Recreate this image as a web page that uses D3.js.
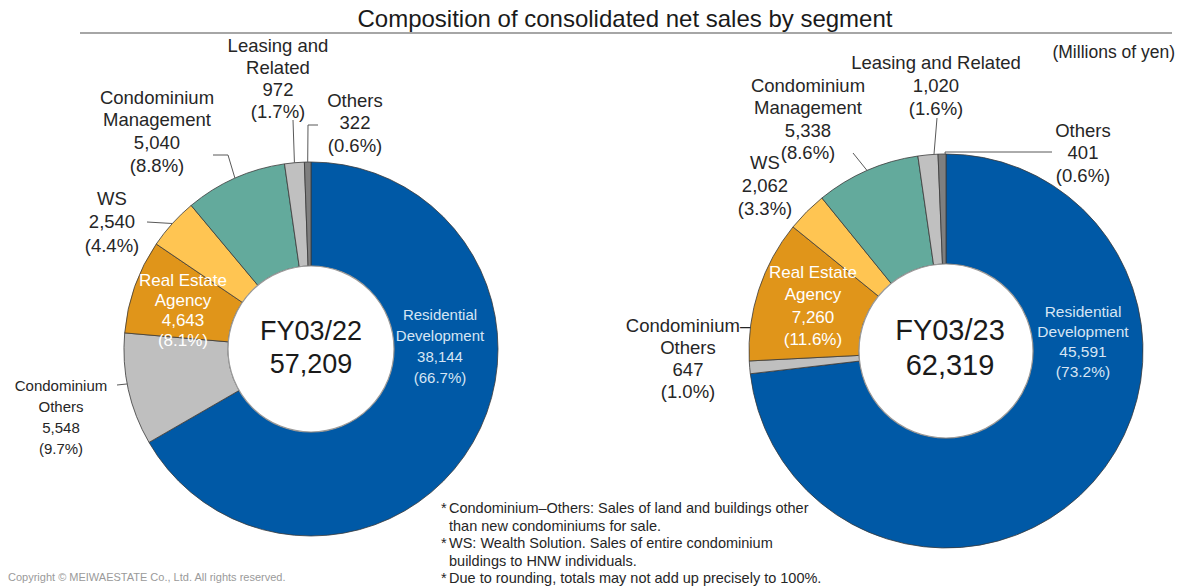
<!DOCTYPE html>
<html>
<head>
<meta charset="utf-8">
<script src="https://cdn.jsdelivr.net/npm/d3@7"></script>
<style>
  html, body { margin: 0; padding: 0; background: #fff; }
  svg { display: block; font-family: Arial, "Liberation Sans", sans-serif; }
</style>
</head>
<body>
<svg id="chart" width="1182" height="588"></svg>
<script>
// ---------- data ----------
const segments = ["Residential Development", "Condominium–Others", "Real Estate Agency", "WS",
                  "Condominium Management", "Leasing and Related", "Others"];
const years = ["FY03/22", "FY03/23"];
const totals = [57209, 62319];
const fy22Values = [38144, 5548, 4643, 2540, 5040, 972, 322];
const fy23Values = [45591, 647, 7260, 2062, 5338, 1020, 401];
const fy22Pct = ["66.7%", "9.7%", "8.1%", "4.4%", "8.8%", "1.7%", "0.6%"];
const fy23Pct = ["73.2%", "1.0%", "11.6%", "3.3%", "8.6%", "1.6%", "0.6%"];
const footnotes = [
  ["* ", "Condominium–Others: Sales of land and buildings other"],
  ["", "than new condominiums for sale."],
  ["* ", "WS: Wealth Solution. Sales of entire condominium"],
  ["", "buildings to HNW individuals."],
  ["* ", "Due to rounding, totals may not add up precisely to 100%."]
];

// ---------- styles / layout ----------
const colors = ["#0059a6", "#bfbfbf", "#e0951a", "#ffc552", "#63aa9c", "#c0c0c0", "#7f7f7f"];
const fmt = d3.format(",");
const OUT = 18.5;

const charts = [
  { values: fy22Values, pct: fy22Pct, year: years[0], total: totals[0],
    cx: 311, cy: 349, R: 187, r: 83, cfs: 27, cdx: 0, cy1: -18, cy2: 15,
    labels: [
      { name: ["Residential", "Development"], x: 440, y: 314, lh: 21, fs: 15, fill: "#d6e5f4" },
      { name: ["Condominium", "Others"], x: 61, y: 385, lh: 21, fs: 15, fill: "#262626", leader: [[117, 385]], frac: 0.55 },
      { name: ["Real Estate", "Agency"], x: 183, y: 280, lh: 20, fs: 17, fill: "#ffffff" },
      { name: ["WS"], x: 112, y: 198, lh: 23.5, fs: OUT, fill: "#262626", leader: [[147, 222]], frac: 0.5 },
      { name: ["Condominium", "Management"], x: 157, y: 97, lh: 22.7, fs: OUT, fill: "#262626", leader: [[213, 155], [228, 155]], frac: 0.5 },
      { name: ["Leasing and", "Related"], x: 278, y: 45, lh: 22.3, fs: OUT, fill: "#262626", leader: [[293, 120]], frac: 0.5 },
      { name: ["Others"], x: 355, y: 100, lh: 22.5, fs: OUT, fill: "#262626", leader: [[318, 125], [308, 125]], frac: 0.5 }
    ] },
  { values: fy23Values, pct: fy23Pct, year: years[1], total: totals[1],
    cx: 946, cy: 351, R: 197, r: 87, cfs: 29, cdx: 4, cy1: -21, cy2: 14,
    labels: [
      { name: ["Residential", "Development"], x: 1083, y: 311, lh: 20, fs: 15.5, fill: "#d6e5f4" },
      { name: ["Condominium–", "Others"], x: 688, y: 325, lh: 22.3, fs: OUT, fill: "#262626" },
      { name: ["Real Estate", "Agency"], x: 813, y: 272, lh: 22.5, fs: 17, fill: "#ffffff" },
      { name: ["WS"], x: 765, y: 162, lh: 23, fs: OUT, fill: "#262626" },
      { name: ["Condominium", "Management"], x: 808, y: 85, lh: 22.5, fs: OUT, fill: "#262626", leader: [[853, 153]], frac: 0.5 },
      { name: ["Leasing and Related"], x: 936, y: 62, lh: 23, fs: OUT, fill: "#262626", leader: [[937, 118]], frac: 0.8 },
      { name: ["Others"], x: 1083, y: 130, lh: 22.5, fs: OUT, fill: "#262626", leader: [[1052, 152], [945, 152]], frac: 0.9 }
    ] }
];

const svg = d3.select("#chart");

// title
svg.append("text")
  .attr("x", 625).attr("y", 18)
  .attr("text-anchor", "middle").attr("dominant-baseline", "central")
  .attr("font-size", 24).attr("fill", "#1a1a1a")
  .text("Composition of consolidated net sales by segment");
svg.append("line")
  .attr("x1", 80).attr("x2", 1172).attr("y1", 33).attr("y2", 33)
  .attr("stroke", "#a6a6a6").attr("stroke-width", 2);

svg.append("text")
  .attr("x", 1175).attr("y", 52)
  .attr("text-anchor", "end").attr("dominant-baseline", "central")
  .attr("font-size", 17.5).attr("fill", "#262626")
  .text("(Millions of yen)");

const pie = d3.pie().sort(null).value(d => d).startAngle(0).endAngle(2 * Math.PI);

charts.forEach(ch => {
  const g = svg.append("g").attr("transform", `translate(${ch.cx},${ch.cy})`);
  const arcs = pie(ch.values);
  const arc = d3.arc().innerRadius(ch.r).outerRadius(ch.R);

  g.selectAll("path.slice")
    .data(arcs)
    .join("path")
    .attr("class", "slice")
    .attr("d", arc)
    .attr("fill", (d, i) => colors[i])
    .attr("stroke", "#3a3a3a")
    .attr("stroke-width", 0.8)
    .attr("stroke-linejoin", "round");

  // inner circle edge (soft)
  g.append("circle").attr("r", ch.r).attr("fill", "#fff")
    .attr("stroke", "#9a9a9a").attr("stroke-width", 1.2);

  // centre text
  g.append("text").attr("x", ch.cdx).attr("y", ch.cy1)
    .attr("text-anchor", "middle").attr("dominant-baseline", "central")
    .attr("font-size", ch.cfs).attr("fill", "#1a1a1a").text(ch.year);
  g.append("text").attr("x", ch.cdx).attr("y", ch.cy2)
    .attr("text-anchor", "middle").attr("dominant-baseline", "central")
    .attr("font-size", ch.cfs).attr("fill", "#1a1a1a").text(fmt(ch.total));

  // labels
  ch.labels.forEach((lb, i) => {
    const lines = lb.name.concat([fmt(ch.values[i]), "(" + ch.pct[i] + ")"]);
    const t = svg.append("text")
      .attr("text-anchor", "middle")
      .attr("font-size", lb.fs).attr("fill", lb.fill);
    lines.forEach((ln, k) => {
      t.append("tspan").attr("x", lb.x).attr("y", lb.y + k * lb.lh)
        .attr("dominant-baseline", "central").text(ln);
    });
    if (lb.leader) {
      const a = arcs[i];
      const ang = a.startAngle + (a.endAngle - a.startAngle) * lb.frac;
      const end = [ch.cx + ch.R * Math.sin(ang), ch.cy - ch.R * Math.cos(ang)];
      const pts = lb.leader.concat([end]);
      svg.append("path")
        .attr("d", d3.line()(pts))
        .attr("fill", "none").attr("stroke", "#595959").attr("stroke-width", 1);
    }
  });
});

// footnotes
footnotes.forEach((f, k) => {
  const y = 508 + k * 17.5;
  const t = svg.append("text")
    .attr("font-size", 14.5).attr("fill", "#262626")
    .attr("dominant-baseline", "central");
  if (f[0]) {
    t.append("tspan").attr("x", 441).attr("y", y).text("*");
  }
  t.append("tspan").attr("x", 449).attr("y", y).text(f[1]);
});

svg.append("text")
  .attr("x", 8).attr("y", 577)
  .attr("dominant-baseline", "central")
  .attr("font-size", 11).attr("fill", "#9a9a9a")
  .text("Copyright © MEIWAESTATE Co., Ltd. All rights reserved.");
</script>
</body>
</html>
